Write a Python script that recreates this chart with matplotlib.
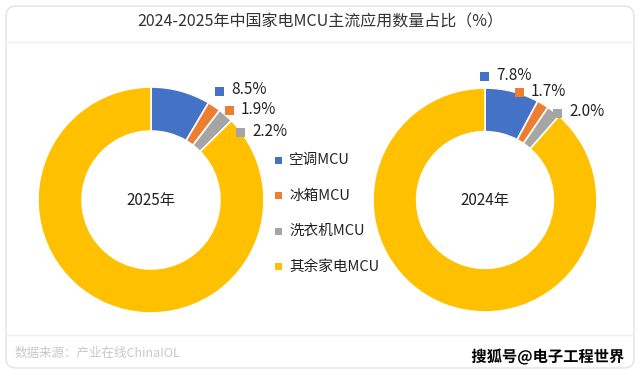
import matplotlib
matplotlib.use("Agg")
import matplotlib.pyplot as plt
from matplotlib.patches import FancyBboxPatch, Rectangle
import matplotlib.patheffects as pe

plt.rcParams['font.family'] = ['Noto Sans CJK SC', 'DejaVu Sans']

categories = ['空调MCU', '冰箱MCU', '洗衣机MCU', '其余家电MCU']
colors = ['#4472C4', '#ED7D31', '#A5A5A5', '#FFC000']
values_2025 = [8.5, 1.9, 2.2, 87.4]
values_2024 = [7.8, 1.7, 2.0, 88.5]
labels_2025 = ['8.5%', '1.9%', '2.2%']
labels_2024 = ['7.8%', '1.7%', '2.0%']
title = '2024-2025年中国家电MCU主流应用数量占比（%）'

W, H = 640, 378
fig = plt.figure(figsize=(6.4, 3.78), dpi=100)
ax = fig.add_axes([0, 0, 1, 1])
ax.set_xlim(0, W)
ax.set_ylim(0, H)
ax.axis('off')

def Y(y):
    return H - y

# card
ax.add_patch(FancyBboxPatch((6, Y(368)), 628, 362, boxstyle="round,pad=0,rounding_size=10",
                            facecolor='white', edgecolor='#e2e2e2', lw=1.0))
ax.plot([6, 634], [Y(42), Y(42)], color='#efefef', lw=1)
ax.plot([6, 634], [Y(335), Y(335)], color='#efefef', lw=1)

ax.text(320, Y(22), title, ha='center', va='center', fontsize=11.5, color='#333333')

def donut(vals, cx, cy, r, year):
    ax.pie(vals, colors=colors, startangle=90, counterclock=False,
           center=(cx, Y(cy)), radius=r,
           wedgeprops=dict(width=r * 0.39, edgecolor='white', linewidth=1.2))
    ax.text(cx, Y(cy), year, ha='center', va='center', fontsize=11, color='#222222')

donut(values_2025, 151, 200, 113, '2025年')
donut(values_2024, 485, 200, 112, '2024年')
ax.set_xlim(0, W)
ax.set_ylim(0, H)
ax.set_aspect('auto')

def label(sx, sy, txt, c):
    ax.add_patch(Rectangle((sx - 4.5, Y(sy) - 4.5), 9, 9, facecolor=c, edgecolor='none'))
    ax.text(sx + 12, Y(sy) + 1, txt, ha='left', va='center', fontsize=11, color='#222222')

for (sx, sy), t, c in zip([(219, 91), (229, 110), (240, 132)], labels_2025, colors):
    label(sx, sy, t, c)
for (sx, sy), t, c in zip([(484, 76), (519, 92), (557, 113)], labels_2024, colors):
    label(sx, sy, t, c)

# legend
for i, (cat, c) in enumerate(zip(categories, colors)):
    ly = 160 + i * 35.5
    ax.add_patch(Rectangle((275, Y(ly) - 3.5), 7, 7, facecolor=c, edgecolor='none'))
    ax.text(289, Y(ly), cat, ha='left', va='center', fontsize=10.5, color='#222222')

ax.text(15, Y(353), '数据来源：产业在线ChinaIOL', ha='left', va='center', fontsize=9, color='#c8c8c8')
ax.text(624, Y(357), '搜狐号@电子工程世界', ha='right', va='center', fontsize=11, color='black',
        fontweight='bold', path_effects=[pe.withStroke(linewidth=2.5, foreground='white')])

fig.savefig('out.png', dpi=100)
